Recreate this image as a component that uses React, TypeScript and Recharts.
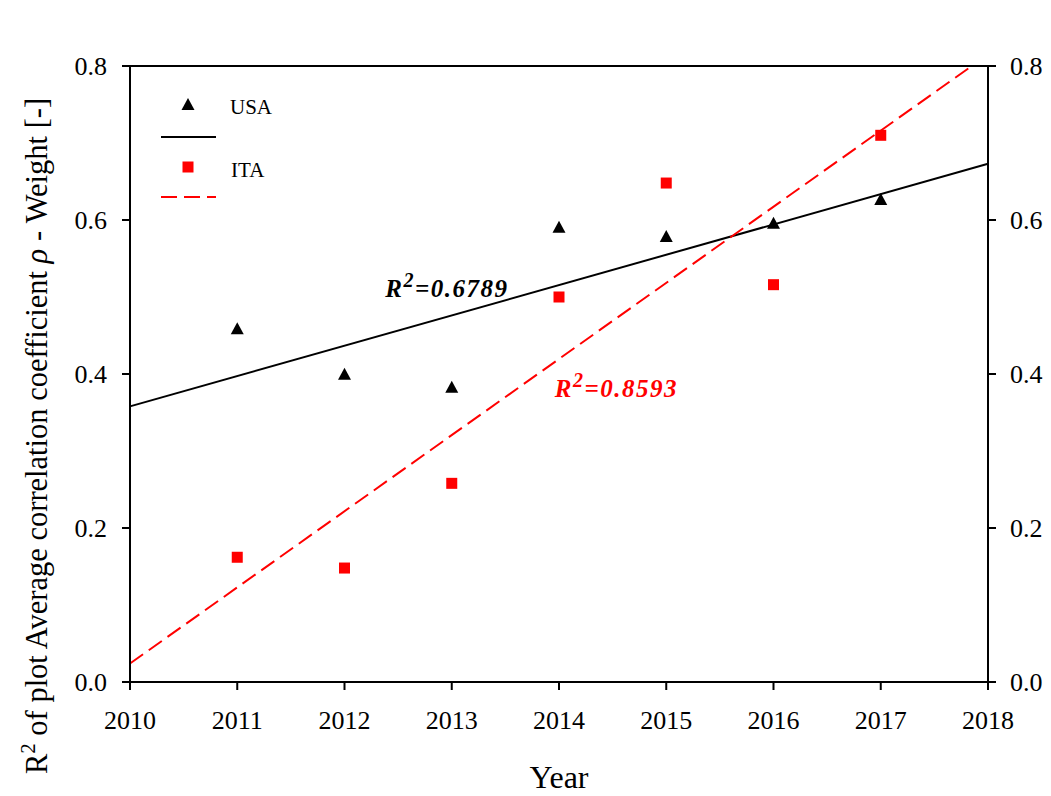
import React from "react";
import {
  ComposedChart,
  Line,
  Scatter,
  XAxis,
  YAxis,
  ReferenceLine,
  ReferenceDot,
} from "recharts";

const years = [2011, 2012, 2013, 2014, 2015, 2016, 2017];
const usaValues = [0.458, 0.399, 0.382, 0.59, 0.578, 0.595, 0.626];
const itaValues = [0.162, 0.148, 0.258, 0.5, 0.648, 0.516, 0.71];
const fitYears = [2010, 2018];
const usaFit = [0.358, 0.673];
const itaFit = [0.024, 0.815];
const xTicks = [2010, 2011, 2012, 2013, 2014, 2015, 2016, 2017, 2018];
const yTicks = [0, 0.2, 0.4, 0.6, 0.8];

const usaPoints = years.map((x, i) => ({ x, y: usaValues[i] }));
const itaPoints = years.map((x, i) => ({ x, y: itaValues[i] }));
const usaLine = fitYears.map((x, i) => ({ x, y: usaFit[i] }));
const itaLine = fitYears.map((x, i) => ({ x, y: itaFit[i] }));

const FONT = "'Liberation Serif', 'Times New Roman', serif";
const RED = "#ff0000";

const Triangle = (props: any) => {
  const { cx, cy } = props;
  return (
    <polygon
      points={`${cx},${cy - 7} ${cx - 6.5},${cy + 5} ${cx + 6.5},${cy + 5}`}
      fill="#000"
    />
  );
};

const Square = (props: any) => {
  const { cx, cy } = props;
  return <rect x={cx - 5.5} y={cy - 5.5} width={11} height={11} fill={RED} />;
};

// tick renderers, so the font size is really applied
const XTick = (props: any) => (
  <text x={props.x} y={props.y} dy={17} textAnchor="middle" fontFamily={FONT} fontSize={26} fill="#000">
    {props.payload.value}
  </text>
);

const YTick = (anchor: "start" | "end") => (props: any) => (
  <text x={props.x} y={props.y} dy={9} textAnchor={anchor} fontFamily={FONT} fontSize={26} fill="#000">
    {Number(props.payload.value).toFixed(1)}
  </text>
);

const YLabel = (props: any) => {
  const vb = props.viewBox || {};
  const x = 39;
  const y = vb.y + vb.height / 2 + 62;
  return (
    <text
      x={x}
      y={y}
      transform={`rotate(-90, ${x}, ${y})`}
      textAnchor="middle"
      fontFamily={FONT}
      fontSize={30.5}
      fill="#000"
    >
      <tspan>R</tspan>
      <tspan dy={-12} fontSize={21}>2</tspan>
      <tspan dy={12}> of plot Average correlation coefficient </tspan>
      <tspan fontStyle="italic">ρ</tspan>
      <tspan> - Weight [-]</tspan>
    </text>
  );
};

const XLabel = (props: any) => {
  const vb = props.viewBox || {};
  return (
    <text
      x={vb.x + vb.width / 2}
      y={vb.y + 106}
      textAnchor="middle"
      fontFamily={FONT}
      fontSize={32}
      fill="#000"
    >
      Year
    </text>
  );
};

const r2Label = (value: string, color: string) => (props: any) => {
  const vb = props.viewBox || {};
  const x = vb.cx ?? vb.x;
  const y = vb.cy ?? vb.y;
  return (
    <text
      x={x}
      y={y}
      fontFamily={FONT}
      fontSize={25}
      fontWeight="bold"
      fontStyle="italic"
      letterSpacing={1.5}
      fill={color}
    >
      <tspan>R</tspan>
      <tspan dy={-10} fontSize={20}>2</tspan>
      <tspan dy={10}>={value}</tspan>
    </text>
  );
};

const axisLine = { stroke: "#000", strokeWidth: 2 };

export default function App() {
  return (
    <div style={{ position: "relative", width: 1043, height: 788, background: "#fff" }}>
      <ComposedChart
        width={1043}
        height={788}
        margin={{ top: 58, right: 0, bottom: 0, left: 0 }}
        style={{ fontFamily: FONT }}
      >
        <XAxis
          dataKey="x"
          type="number"
          domain={[2010, 2018]}
          ticks={xTicks}
          height={114}
          tickSize={8}
          tickMargin={22}
          tick={<XTick />}
          axisLine={axisLine}
          tickLine={axisLine}
          allowDecimals={false}
          label={<XLabel />}
        />
        <YAxis
          yAxisId="left"
          type="number"
          domain={[0, 0.8]}
          ticks={yTicks}
          allowDataOverflow
          width={122}
          tickSize={8}
          tickMargin={15}
          tick={YTick("end")}
          axisLine={axisLine}
          tickLine={axisLine}
          label={<YLabel />}
        />
        <YAxis
          yAxisId="right"
          orientation="right"
          type="number"
          domain={[0, 0.8]}
          ticks={yTicks}
          allowDataOverflow
          width={63}
          tickSize={8}
          tickMargin={14}
          tick={YTick("start")}
          axisLine={axisLine}
          tickLine={axisLine}
        />
        <ReferenceLine yAxisId="left" y={0.8} stroke="#000" strokeWidth={2} />
        <Line
          yAxisId="left"
          data={usaLine}
          dataKey="y"
          stroke="#000"
          strokeWidth={2}
          dot={false}
          activeDot={false}
          isAnimationActive={false}
        />
        <Line
          yAxisId="left"
          data={itaLine}
          dataKey="y"
          stroke={RED}
          strokeWidth={2}
          strokeDasharray="16 7"
          dot={false}
          activeDot={false}
          isAnimationActive={false}
        />
        <Scatter yAxisId="left" data={usaPoints} dataKey="y" shape={<Triangle />} isAnimationActive={false} />
        <Scatter yAxisId="left" data={itaPoints} dataKey="y" shape={<Square />} isAnimationActive={false} />
        <ReferenceDot
          yAxisId="left"
          x={2012.38}
          y={0.5}
          r={0}
          stroke="none"
          fill="none"
          label={r2Label("0.6789", "#000")}
        />
        <ReferenceDot
          yAxisId="left"
          x={2013.96}
          y={0.37}
          r={0}
          stroke="none"
          fill="none"
          label={r2Label("0.8593", RED)}
        />
      </ComposedChart>
      <svg
        width={300}
        height={220}
        style={{ position: "absolute", left: 0, top: 0, pointerEvents: "none" }}
      >
        <Triangle cx={180} cy={97} />
        <text x={222} y={106} fontFamily={FONT} fontSize={21} fill="#000">
          USA
        </text>
        <line x1={153} y1={129} x2={208} y2={129} stroke="#000" strokeWidth={2} />
        <Square cx={180} cy={159} />
        <text x={223} y={169} fontFamily={FONT} fontSize={21} fill="#000">
          ITA
        </text>
        <line
          x1={153}
          y1={189}
          x2={208}
          y2={189}
          stroke={RED}
          strokeWidth={2}
          strokeDasharray="16 7"
        />
      </svg>
    </div>
  );
}
